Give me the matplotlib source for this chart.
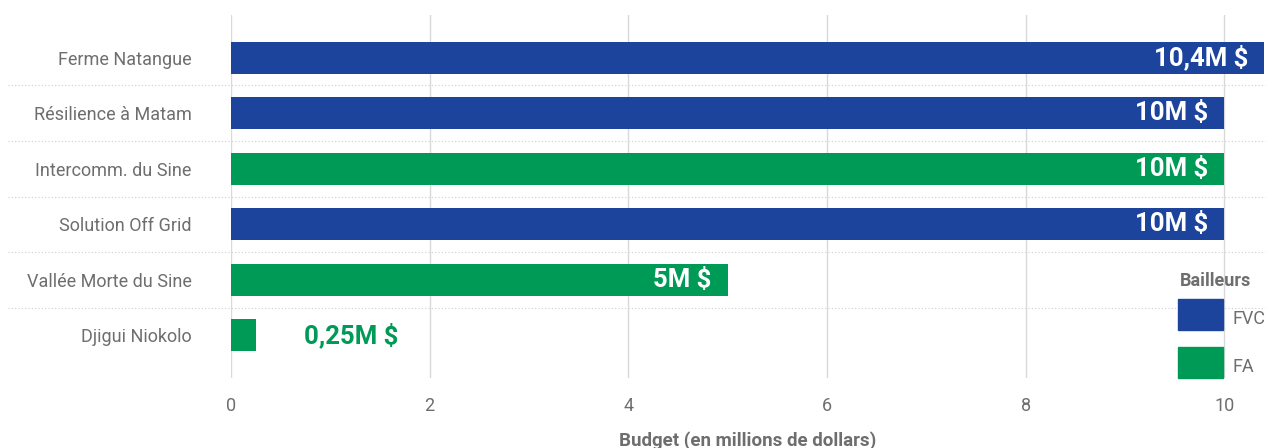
import numpy as np
import matplotlib.pyplot as plt
from matplotlib.patches import Rectangle

plt.rcParams['font.family'] = ['Roboto', 'DejaVu Sans']

projects = ['Ferme Natangue', 'Résilience à Matam', 'Intercomm. du Sine',
            'Solution Off Grid', 'Vallée Morte du Sine', 'Djigui Niokolo']
budget = [10.4, 10, 10, 10, 5, 0.25]
donor = ['FVC', 'FVC', 'FA', 'FVC', 'FA', 'FA']
value_labels = ['10,4M $', '10M $', '10M $', '10M $', '5M $', '0,25M $']

donors = ['FVC', 'FA']
colors = {'FVC': '#1c449c', 'FA': '#009a57'}
grey = '#6e6e6e'

W, H = 1281, 448
fig = plt.figure(figsize=(W / 100, H / 100), dpi=100)
ax = fig.add_axes([231 / W, 1 - 378 / H, (1265 - 231) / W, (378 - 15) / H])

y = np.arange(len(projects))
ax.barh(y, budget, height=0.575, color=[colors[d] for d in donor], zorder=2)

for i, (v, lab) in enumerate(zip(budget, value_labels)):
    if v > 1:
        ax.annotate(lab, (v, i), xytext=(-11.5, 0), textcoords='offset points',
                    ha='right', va='center', color='white', fontsize=18.5,
                    fontweight='bold', zorder=3)
    else:
        ax.annotate(lab, (v, i), xytext=(35, 0), textcoords='offset points',
                    ha='left', va='center', color=colors[donor[i]], fontsize=18.5,
                    fontweight='bold', zorder=3)

# dotted separators between rows, running into the label area
for i in range(len(projects) - 1):
    ax.axhline(i + 0.5, xmin=(8 - 231) / (1265 - 231), xmax=1, color='#cccccc',
               lw=0.8, ls=(0, (1, 2)), clip_on=False, zorder=1)

ax.set_xlim(0, 10.41)
ax.set_ylim(5.77, -0.77)
ax.set_xticks([0, 2, 4, 6, 8, 10])
ax.set_yticks(y)
ax.set_yticklabels(projects)
ax.grid(axis='x', color='#d9d9d9', lw=1, zorder=0)
for s in ax.spines.values():
    s.set_visible(False)
ax.tick_params(axis='both', length=0, colors=grey, labelsize=13)
ax.tick_params(axis='y', pad=28.5)
ax.tick_params(axis='x', pad=14)
ax.set_xlabel('Budget (en millions de dollars)', color=grey, fontsize=13.5,
              fontweight='bold', labelpad=11)

# legend
fig.text(1180 / W, 1 - 281 / H, 'Bailleurs', color=grey, fontsize=13,
         fontweight='bold', ha='left', va='center')
for k, d in enumerate(donors):
    top = 299 + k * 48
    fig.add_artist(Rectangle((1178 / W, 1 - (top + 31) / H), 45 / W, 31 / H,
                             transform=fig.transFigure, color=colors[d]))
    fig.text(1233 / W, 1 - (top + 20) / H, d, color=grey, fontsize=13,
             ha='left', va='center')

fig.savefig('out.png', dpi=100)
